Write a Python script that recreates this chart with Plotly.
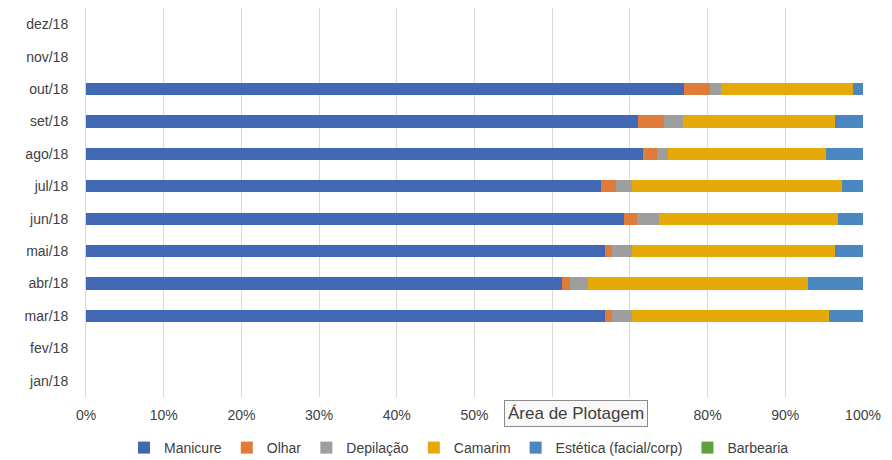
import plotly.graph_objects as go

months = ["jan/18", "fev/18", "mar/18", "abr/18", "mai/18", "jun/18",
          "jul/18", "ago/18", "set/18", "out/18", "nov/18", "dez/18"]

manicure = [None, None, 66.8, 61.3, 66.8, 69.2, 66.3, 71.7, 71.0, 77.0, None, None]
olhar    = [None, None, 0.9, 1.0, 0.9, 1.7, 1.9, 1.8, 3.4, 3.3, None, None]
depilacao = [None, None, 2.6, 2.3, 2.6, 2.8, 2.1, 1.4, 2.4, 1.4, None, None]
camarim  = [None, None, 25.3, 28.3, 26.1, 23.1, 27.0, 20.3, 19.6, 17.0, None, None]
estetica = [None, None, 4.4, 7.1, 3.6, 3.2, 2.7, 4.8, 3.6, 1.3, None, None]
barbearia = [None, None, 0, 0, 0, 0, 0, 0, 0, 0, None, None]

series = [
    ("Manicure", manicure, "#4169B3"),
    ("Olhar", olhar, "#E07B39"),
    ("Depilação", depilacao, "#9E9E9E"),
    ("Camarim", camarim, "#E5AA0A"),
    ("Estética (facial/corp)", estetica, "#4A86C2"),
    ("Barbearia", barbearia, "#5FA043"),
]

W, H = 892, 460
ML, MR, MT, MB = 86, 29, 8, 63
PW, PH = W - ML - MR, H - MT - MB

fig = go.Figure()
for name, vals, col in series:
    fig.add_trace(go.Bar(
        y=months, x=vals, name=name, orientation="h",
        marker=dict(color=col, line=dict(width=0)),
    ))

fig.update_layout(
    barmode="stack",
    barnorm="percent",
    bargap=0.62,
    width=W, height=H,
    margin=dict(l=ML, r=MR, t=MT, b=MB, autoexpand=False),
    paper_bgcolor="white", plot_bgcolor="white",
    font=dict(family="Liberation Sans, Arial, sans-serif", size=14, color="#404040"),
    showlegend=True,
    legend=dict(orientation="h", x=(459 - ML) / PW, xanchor="center",
                y=(H - MB - 448) / PH, yanchor="middle",
                font=dict(size=14, color="#404040"), traceorder="normal",
                itemwidth=30, tracegroupgap=0),
    xaxis=dict(range=[0, 100], tickvals=[0, 10, 20, 30, 40, 50, 60, 70, 80, 90, 100],
               ticktext=["0%", "10%", "20%", "30%", "40%", "50%", "60%", "70%", "80%", "90%", "100%"],
               showgrid=True, gridcolor="#D9D9D9", gridwidth=1, zeroline=False,
               showline=False, ticks="", ticklabelstandoff=8,
               tickfont=dict(size=14, color="#404040")),
    yaxis=dict(categoryorder="array", categoryarray=months, showgrid=False,
               showline=True, linecolor="#D9D9D9", linewidth=1, ticks="",
               ticklabelstandoff=14, tickfont=dict(size=14, color="#404040")),
)

fig.add_annotation(
    x=(576 - ML) / PW, y=(H - MB - 427) / PH, xref="paper", yref="paper",
    text="Área de Plotagem", showarrow=False,
    font=dict(size=17, color="#404040"),
    bgcolor="#F8F8F8", bordercolor="#8A8A8A", borderwidth=1, borderpad=3,
)

fig.write_html("out.html")
